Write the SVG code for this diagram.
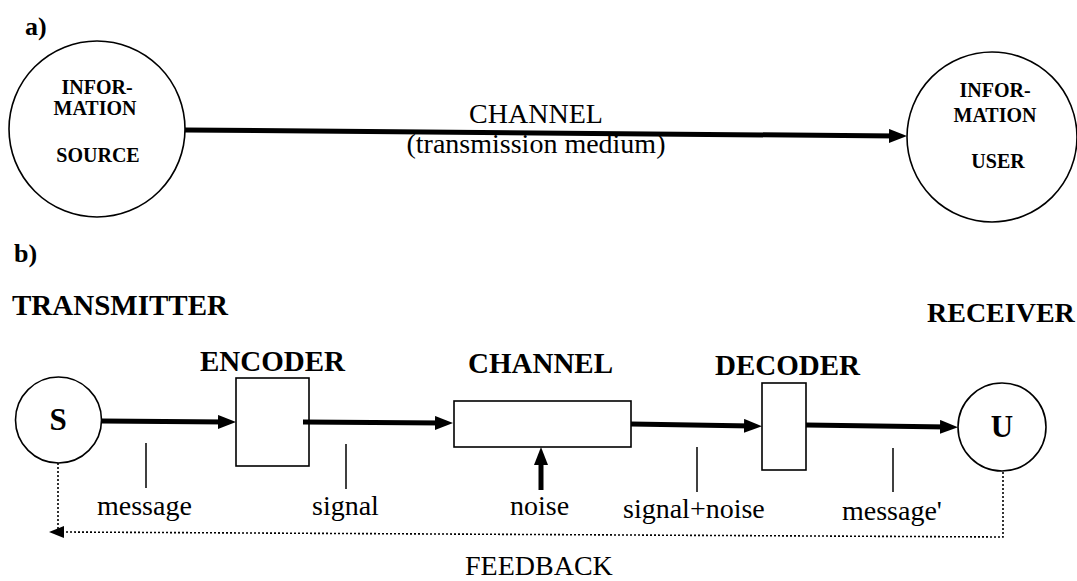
<svg xmlns="http://www.w3.org/2000/svg" width="1077" height="581" viewBox="0 0 1077 581" font-family="'Liberation Serif', 'Times New Roman', Times, 'DejaVu Serif', serif">
  <style>
    text { fill: #000; }
    .bold { font-weight: bold; }
    .node { fill: #fff; stroke: #000; stroke-width: 1.6; }
    .flow { fill: none; stroke: #000; stroke-width: 5; }
    .tick { stroke: #000; stroke-width: 1.5; }
    .dotted { fill: none; stroke: #000; stroke-width: 1.6; stroke-dasharray: 2 2; }
  </style>
  <defs>
    <marker id="head" markerUnits="userSpaceOnUse" viewBox="0 0 18 14" markerWidth="18" markerHeight="14" refX="8" refY="7" orient="auto">
      <path d="M0,0 L18,7 L0,14 Z" fill="#000"/>
    </marker>
    <marker id="headSmall" markerUnits="userSpaceOnUse" viewBox="0 0 15 12" markerWidth="15" markerHeight="12" refX="3" refY="6" orient="auto">
      <path d="M0,0 L15,6 L0,12 Z" fill="#000"/>
    </marker>
  </defs>

  <!-- part a -->
  <text class="bold" x="25" y="35" font-size="26">a)</text>

  <g id="info-source">
    <circle class="node" cx="97" cy="129" r="88"/>
    <text class="bold" x="97" y="94" font-size="20" text-anchor="middle">INFOR-</text>
    <text class="bold" x="95" y="115" font-size="20" text-anchor="middle">MATION</text>
    <text class="bold" x="98" y="162" font-size="20" text-anchor="middle">SOURCE</text>
  </g>

  <g id="info-user">
    <circle class="node" cx="992" cy="137" r="85"/>
    <text class="bold" x="995" y="97" font-size="20" text-anchor="middle">INFOR-</text>
    <text class="bold" x="995" y="122" font-size="20" text-anchor="middle">MATION</text>
    <text class="bold" x="998" y="168" font-size="20" text-anchor="middle">USER</text>
  </g>

  <g id="connectors-a">
    <path class="flow" d="M185,130 L897,136" marker-end="url(#head)"/>
    <text x="536" y="123" font-size="28" text-anchor="middle">CHANNEL</text>
    <text x="536" y="153" font-size="28" text-anchor="middle">(transmission medium)</text>
  </g>

  <!-- part b -->
  <text class="bold" x="14" y="262" font-size="26">b)</text>
  <text class="bold" x="12" y="315" font-size="29">TRANSMITTER</text>
  <text class="bold" x="927" y="322" font-size="28">RECEIVER</text>

  <g id="source-s">
    <circle class="node" cx="58.5" cy="420" r="43"/>
    <text class="bold" x="58" y="430" font-size="31" text-anchor="middle">S</text>
  </g>

  <g id="encoder">
    <text class="bold" x="200" y="371" font-size="29">ENCODER</text>
    <rect class="node" x="236" y="378" width="73" height="88"/>
  </g>

  <g id="channel">
    <text class="bold" x="468" y="373" font-size="29">CHANNEL</text>
    <rect class="node" x="454" y="401" width="177" height="46"/>
  </g>

  <g id="decoder">
    <text class="bold" x="715" y="375" font-size="29">DECODER</text>
    <rect class="node" x="762" y="383" width="44" height="87"/>
  </g>

  <g id="user-u">
    <circle class="node" cx="1002" cy="427" r="44"/>
    <text class="bold" x="1002" y="437" font-size="31" text-anchor="middle">U</text>
  </g>

  <g id="connectors-b">
    <path class="flow" d="M102,421 L226,422" marker-end="url(#head)"/>
    <path class="flow" d="M303,422 L443,423" marker-end="url(#head)"/>
    <path class="flow" d="M631,424 L752,426" marker-end="url(#head)"/>
    <path class="flow" d="M806,425 L948,427" marker-end="url(#head)"/>
    <path class="flow" d="M541,490 L541,457" marker-end="url(#head)"/>

    <line class="tick" x1="146" y1="443" x2="146" y2="488"/>
    <line class="tick" x1="346" y1="444" x2="346" y2="489"/>
    <line class="tick" x1="697" y1="447" x2="697" y2="492"/>
    <line class="tick" x1="893" y1="448" x2="893" y2="492"/>

    <text x="97" y="515" font-size="28">message</text>
    <text x="312" y="515" font-size="28">signal</text>
    <text x="510" y="515" font-size="28">noise</text>
    <text x="623" y="518" font-size="28">signal+noise</text>
    <text x="842" y="520" font-size="28">message'</text>

    <!-- feedback loop -->
    <path class="dotted" d="M58,463 L58,531"/>
    <path class="dotted" d="M1003,472 L1003,537 L61,532" marker-end="url(#headSmall)"/>
    <text x="465" y="575" font-size="28">FEEDBACK</text>
  </g>
</svg>
